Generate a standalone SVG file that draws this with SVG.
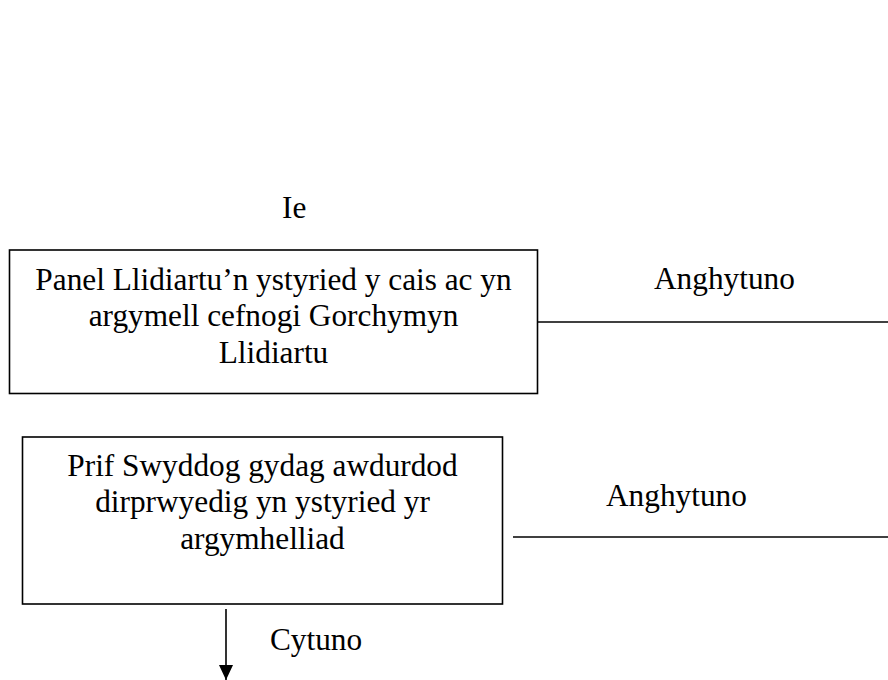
<svg xmlns="http://www.w3.org/2000/svg" width="888" height="680" viewBox="0 0 888 680">
<style>
  .t { font-family: "Liberation Serif", "Times New Roman", serif; font-size: 31.3px; fill: #000; }
  .c { text-anchor: middle; }
  .box { fill: #fff; stroke: #000; stroke-width: 1.6; }
  .ln { stroke: #000; stroke-width: 1.6; fill: none; }
</style>
<defs>
  <marker id="ah" markerWidth="15" markerHeight="14" refX="15" refY="7" orient="auto" markerUnits="userSpaceOnUse">
    <path d="M0,0 L15,7 L0,14 Z" fill="#000"/>
  </marker>
</defs>
<rect width="888" height="680" fill="#fff"/>
<g id="connectors">
  <line class="ln" x1="538" y1="322" x2="888" y2="322"/>
  <line class="ln" x1="513" y1="537" x2="888" y2="537"/>
  <line class="ln" x1="226" y1="609" x2="226" y2="680" marker-end="url(#ah)"/>
</g>
<g id="label-ie"><text class="t" x="282" y="218">Ie</text></g>
<g id="node-panel">
  <rect class="box" x="9.5" y="250" width="528" height="143.5"/>
  <text class="t c" x="273.5" y="289.5">Panel Llidiartu’n ystyried y cais ac yn</text>
  <text class="t c" x="273.5" y="326">argymell cefnogi Gorchymyn</text>
  <text class="t c" x="273.5" y="362.5">Llidiartu</text>
</g>
<g id="label-anghytuno-1"><text class="t" x="654" y="289">Anghytuno</text></g>
<g id="node-prif">
  <rect class="box" x="22.5" y="437" width="480" height="167"/>
  <text class="t c" x="262.5" y="475.5">Prif Swyddog gydag awdurdod</text>
  <text class="t c" x="262.5" y="512">dirprwyedig yn ystyried yr</text>
  <text class="t c" x="262.5" y="548.5">argymhelliad</text>
</g>
<g id="label-anghytuno-2"><text class="t" x="606" y="506">Anghytuno</text></g>
<g id="label-cytuno"><text class="t" x="270" y="650">Cytuno</text></g>
</svg>
